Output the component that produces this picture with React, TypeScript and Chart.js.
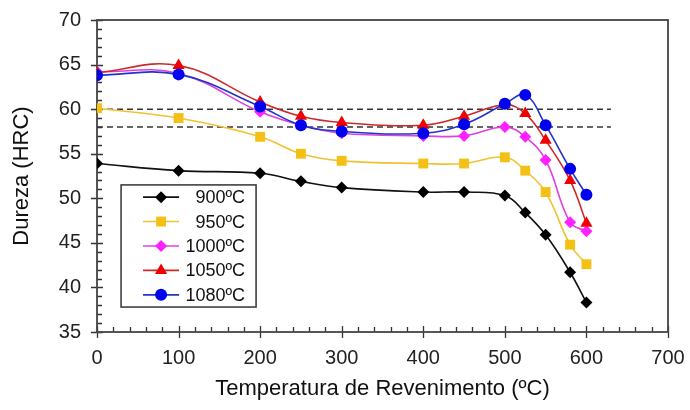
import React, { useEffect, useRef } from 'react';
import { Chart, registerables } from 'chart.js';

Chart.register(...registerables);

// ---- data ----
const temperatures = [0, 100, 200, 250, 300, 400, 450, 500, 525, 550, 580, 600];
const hrc900 = [53.9, 53.1, 52.8, 51.9, 51.2, 50.7, 50.7, 50.3, 48.4, 45.9, 41.7, 38.3];
const hrc950 = [60.1, 59.0, 56.9, 55.0, 54.2, 53.9, 53.9, 54.6, 53.1, 50.7, 44.8, 42.6];
const hrc1000 = [64.2, 64.0, 59.7, 58.2, 57.3, 57.0, 57.0, 58.0, 56.9, 54.3, 47.3, 46.3];
const hrc1050 = [64.1, 64.9, 60.8, 59.2, 58.5, 58.2, 59.2, 60.5, 59.5, 56.5, 52.0, 47.2];
const hrc1080 = [63.8, 63.9, 60.3, 58.2, 57.5, 57.3, 58.3, 60.6, 61.6, 58.2, 53.3, 50.4];
const seriesLabels = ['900ºC', '950ºC', '1000ºC', '1050ºC', '1080ºC'];
const limitValues = [60, 58];
const limitRange = [0, 630];
const xRange = [0, 700];
const yRange = [35, 70];
const xTitle = 'Temperatura de Revenimento (ºC)';
const yTitle = 'Dureza (HRC)';

const FONT = "'Liberation Sans', Arial, sans-serif";

const toPoints = (vals: number[]) => temperatures.map((t, i) => ({ x: t, y: vals[i] }));

function drawMarker(ctx: CanvasRenderingContext2D, style: string, x: number, y: number, r: number, color: string) {
  ctx.save();
  ctx.fillStyle = color;
  ctx.beginPath();
  if (style === 'rectRot') {
    ctx.moveTo(x, y - r);
    ctx.lineTo(x + r, y);
    ctx.lineTo(x, y + r);
    ctx.lineTo(x - r, y);
    ctx.closePath();
  } else if (style === 'rect') {
    const h = r * Math.SQRT1_2;
    ctx.rect(x - h, y - h, 2 * h, 2 * h);
  } else if (style === 'triangle') {
    const a = (3 * r) / Math.sqrt(3);
    const hgt = (a * Math.sqrt(3)) / 2;
    ctx.moveTo(x, y - (2 * hgt) / 3);
    ctx.lineTo(x + a / 2, y + hgt / 3);
    ctx.lineTo(x - a / 2, y + hgt / 3);
    ctx.closePath();
  } else {
    ctx.arc(x, y, r, 0, Math.PI * 2);
  }
  ctx.fill();
  ctx.restore();
}

const framePlugin = {
  id: 'frameAndTicks',
  beforeDatasetsDraw(chart: any) {
    const { ctx, chartArea } = chart;
    const xs = chart.scales.x;
    const ys = chart.scales.y;
    ctx.save();
    ctx.strokeStyle = '#333';
    ctx.lineWidth = 1.3;
    ctx.beginPath();
    for (let v = xRange[0]; v <= xRange[1]; v += 20) {
      const px = Math.round(xs.getPixelForValue(v)) + 0.5;
      const major = v % 100 === 0;
      ctx.moveTo(px, chartArea.bottom + (major ? 6 : 0));
      ctx.lineTo(px, chartArea.bottom - (major ? 6 : 5));
    }
    for (let v = yRange[0]; v <= yRange[1]; v += 1) {
      const py = Math.round(ys.getPixelForValue(v)) + 0.5;
      const major = v % 5 === 0;
      ctx.moveTo(chartArea.left - (major ? 6 : 0), py);
      ctx.lineTo(chartArea.left + (major ? 6 : 5), py);
    }
    ctx.stroke();
    ctx.strokeStyle = '#444';
    ctx.lineWidth = 1.8;
    ctx.strokeRect(chartArea.left, chartArea.top, chartArea.right - chartArea.left, chartArea.bottom - chartArea.top);
    ctx.restore();
  },
};

const legendPlugin = {
  id: 'insideLegend',
  afterDraw(chart: any) {
    const { ctx } = chart;
    const xs = chart.scales.x;
    const ys = chart.scales.y;
    const entries = chart.data.datasets.filter((d: any) => d.inLegend);
    const boxL = xs.getPixelForValue(29.5);
    const boxR = xs.getPixelForValue(195);
    const boxT = ys.getPixelForValue(51.5);
    const boxB = ys.getPixelForValue(37.8);
    ctx.save();
    ctx.fillStyle = '#fff';
    ctx.fillRect(boxL, boxT, boxR - boxL, boxB - boxT);
    ctx.strokeStyle = '#333';
    ctx.lineWidth = 1.5;
    ctx.strokeRect(boxL, boxT, boxR - boxL, boxB - boxT);
    const rowH = (boxB - boxT) / entries.length;
    const lineL = boxL + 22;
    const lineR = boxL + 58;
    const textR = boxR - 11;
    ctx.font = `18px ${FONT}`;
    ctx.textAlign = 'right';
    ctx.textBaseline = 'middle';
    entries.forEach((d: any, i: number) => {
      const cy = boxT + rowH * (i + 0.5);
      ctx.strokeStyle = d.borderColor;
      ctx.lineWidth = 1.6;
      ctx.beginPath();
      ctx.moveTo(lineL, cy);
      ctx.lineTo(lineR, cy);
      ctx.stroke();
      drawMarker(ctx, d.pointStyle, (lineL + lineR) / 2, cy, d.pointRadius, d.pointBackgroundColor);
      ctx.fillStyle = '#111';
      ctx.fillText(d.label, textR, cy + 1);
    });
    ctx.restore();
  },
};

export default function App() {
  const canvasRef = useRef<HTMLCanvasElement | null>(null);

  useEffect(() => {
    document.body.style.margin = '0';
    const canvas = canvasRef.current;
    if (!canvas) return;

    const series = [
      { label: seriesLabels[0], data: hrc900, line: '#111111', fill: '#000000', style: 'rectRot', r: 6, order: 4 },
      { label: seriesLabels[1], data: hrc950, line: '#F0C232', fill: '#F5C016', style: 'rect', r: 7, order: 3 },
      { label: seriesLabels[2], data: hrc1000, line: '#E040E0', fill: '#FF20FF', style: 'rectRot', r: 6, order: 2 },
      { label: seriesLabels[3], data: hrc1050, line: '#CC2A2A', fill: '#F00000', style: 'triangle', r: 7, order: 1 },
      { label: seriesLabels[4], data: hrc1080, line: '#2233CC', fill: '#0000F0', style: 'circle', r: 6, order: 0 },
    ];

    const datasets: any[] = series.map((s) => ({
      label: s.label,
      data: toPoints(s.data),
      borderColor: s.line,
      borderWidth: 1.6,
      backgroundColor: s.fill,
      pointBackgroundColor: s.fill,
      pointBorderColor: s.fill,
      pointBorderWidth: 0,
      pointStyle: s.style,
      pointRadius: s.r,
      tension: 0.4,
      order: s.order,
      inLegend: true,
    }));

    limitValues.forEach((v) => {
      datasets.push({
        label: 'limit ' + v,
        data: limitRange.map((x) => ({ x, y: v })),
        borderColor: '#333',
        borderWidth: 1.5,
        borderDash: [6, 4],
        pointRadius: 0,
        tension: 0,
        order: 10,
        inLegend: false,
      });
    });

    const chart = new Chart(canvas, {
      type: 'line',
      data: { datasets },
      options: {
        animation: false,
        responsive: false,
        maintainAspectRatio: false,
        layout: { padding: { left: 0, top: 20, right: 22, bottom: 0 } },
        plugins: { legend: { display: false }, tooltip: { enabled: false } },
        scales: {
          x: {
            type: 'linear',
            min: xRange[0],
            max: xRange[1],
            grid: { display: false, drawTicks: false },
            border: { display: false },
            ticks: { stepSize: 100, padding: 14, color: '#222', font: { family: FONT, size: 20 }, maxRotation: 0 },
            title: { display: true, text: xTitle, color: '#111', font: { family: FONT, size: 22 }, padding: { top: 0, bottom: 8 } },
            afterFit: (scale: any) => {
              scale.height = 78;
              scale.paddingLeft = 0;
              scale.paddingRight = 0;
            },
          },
          y: {
            type: 'linear',
            min: yRange[0],
            max: yRange[1],
            grid: { display: false, drawTicks: false },
            border: { display: false },
            ticks: { stepSize: 5, padding: 16, color: '#222', font: { family: FONT, size: 20 } },
            title: { display: true, text: yTitle, color: '#111', font: { family: FONT, size: 22 }, padding: { top: 9, bottom: 0 } },
            afterFit: (scale: any) => {
              scale.width = 97;
              scale.paddingTop = 0;
              scale.paddingBottom = 0;
            },
          },
        },
      },
      plugins: [framePlugin, legendPlugin],
    });

    return () => chart.destroy();
  }, []);

  return <canvas ref={canvasRef} width={690} height={410} style={{ display: 'block' }} />;
}
